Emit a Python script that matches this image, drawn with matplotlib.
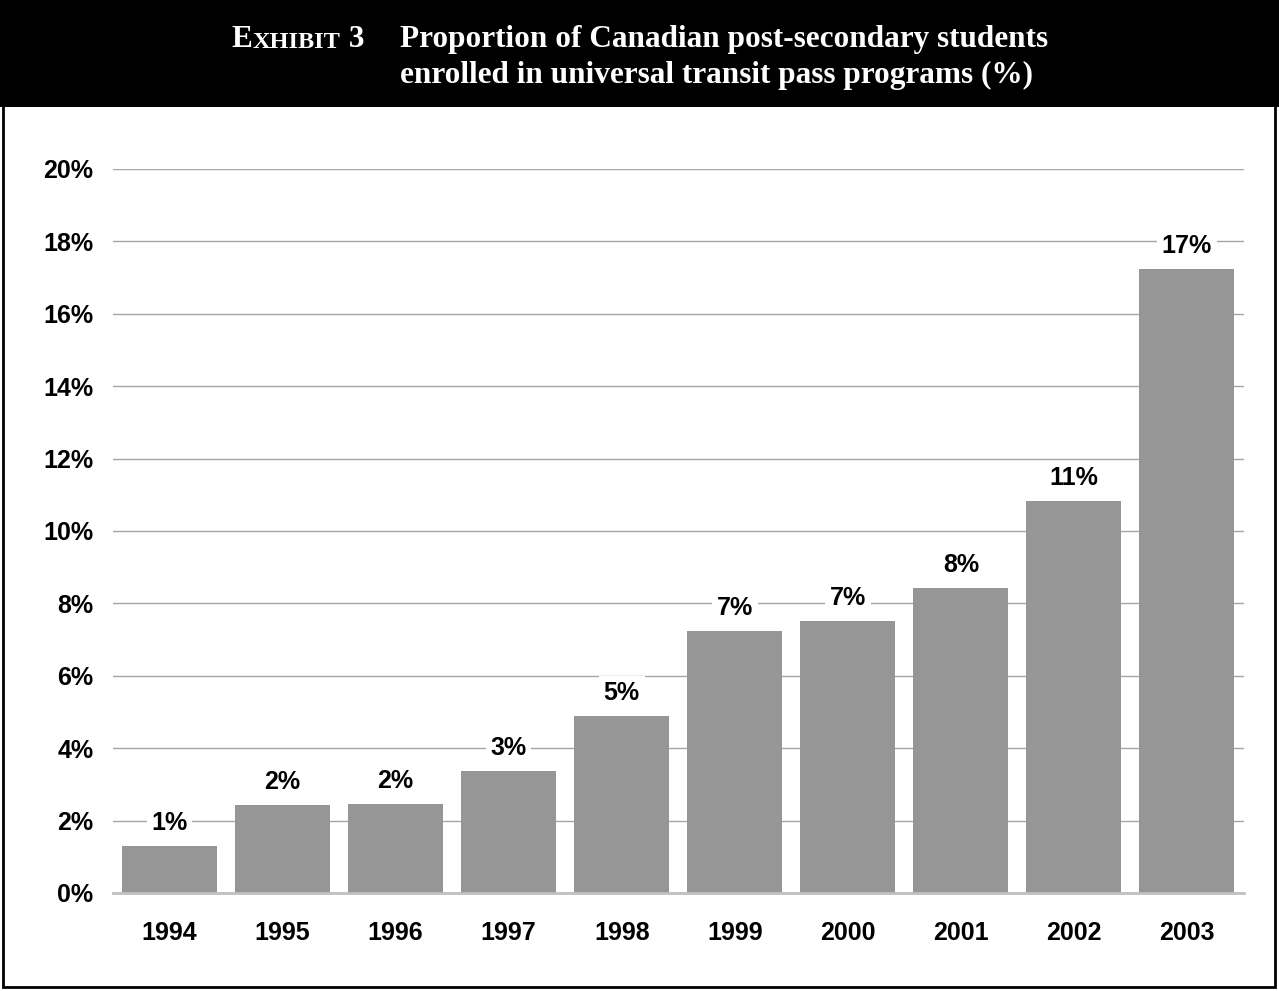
import matplotlib.pyplot as plt
from matplotlib.patches import Rectangle
from matplotlib.text import Annotation

# data
years = ['1994', '1995', '1996', '1997', '1998', '1999', '2000', '2001', '2002', '2003']
share = [1.3, 2.43, 2.46, 3.37, 4.89, 7.24, 7.51, 8.43, 10.83, 17.24]
bar_labels = ['1%', '2%', '2%', '3%', '5%', '7%', '7%', '8%', '11%', '17%']
yticks = [0, 2, 4, 6, 8, 10, 12, 14, 16, 18, 20]

W, H = 1279, 991
fig = plt.figure(figsize=(W / 100, H / 100), dpi=100)
fig.patch.set_facecolor('white')

# black header band + outer frame
fig.patches.append(Rectangle((0, 1 - 107 / H), 1, 107 / H, transform=fig.transFigure,
                             facecolor='black', edgecolor='none', zorder=0))
fig.patches.append(Rectangle((3 / W, 4 / H), 1 - 7 / W, 1 - 8 / H, transform=fig.transFigure,
                             facecolor='none', edgecolor='black', linewidth=2, zorder=1))

# title, "Exhibit 3" in small caps
serif = ['Liberation Serif', 'DejaVu Serif']
big, small = 22.5, 17.5
t1 = fig.text(232 / W, 1 - 47 / H, 'E', color='white', fontsize=big, fontweight='bold',
              family=serif, va='baseline', ha='left')
t2 = fig.add_artist(Annotation('XHIBIT', xy=(1, 0), xycoords=t1, xytext=(0, 1),
                               textcoords='offset points', color='white', fontsize=small,
                               fontweight='bold', family=serif, va='bottom', ha='left'))
fig.add_artist(Annotation(' 3', xy=(1, 0), xycoords=t2, xytext=(0, -1),
                          textcoords='offset points', color='white', fontsize=big,
                          fontweight='bold', family=serif, va='bottom', ha='left'))
fig.text(400 / W, 1 - 47 / H, 'Proportion of Canadian post-secondary students',
         color='white', fontsize=big, fontweight='bold', family=serif, va='baseline', ha='left')
fig.text(400 / W, 1 - 83 / H, 'enrolled in universal transit pass programs (%)',
         color='white', fontsize=big, fontweight='bold', family=serif, va='baseline', ha='left')

ax = fig.add_axes([113 / W, 1 - 893 / H, (1243.5 - 113) / W, (893 - 169) / H])
x = range(len(years))
bars = ax.bar(x, share, width=0.84, color='#969696', zorder=2)

for i, (v, lab) in enumerate(zip(share, bar_labels)):
    ax.annotate(lab, xy=(i, v), xytext=(0, 8), textcoords='offset points',
                ha='center', va='bottom', fontsize=18, fontweight='bold',
                family=['Liberation Sans', 'DejaVu Sans'], zorder=3,
                bbox=dict(facecolor='white', edgecolor='none', pad=3.5))

ax.set_xlim(-0.5, 9.5)
ax.set_ylim(0, 20)
ax.set_yticks(yticks)
ax.set_yticklabels([f'{t}%' for t in yticks])
ax.set_xticks(list(x))
ax.set_xticklabels(years)
for lbl in ax.get_xticklabels() + ax.get_yticklabels():
    lbl.set_fontsize(18)
    lbl.set_fontweight('bold')
    lbl.set_family(['Liberation Sans', 'DejaVu Sans'])
ax.tick_params(axis='y', length=0, pad=14)
ax.tick_params(axis='x', length=0, pad=20)

ax.grid(True, axis='y', color='#a6a6a6', linewidth=1, zorder=1)
ax.set_axisbelow(True)
for s in ['left', 'right', 'top']:
    ax.spines[s].set_visible(False)
ax.spines['bottom'].set_color('#c0c0c0')
ax.spines['bottom'].set_linewidth(2)
ax.spines['bottom'].set_zorder(2.5)

fig.savefig('out.png', dpi=100)
